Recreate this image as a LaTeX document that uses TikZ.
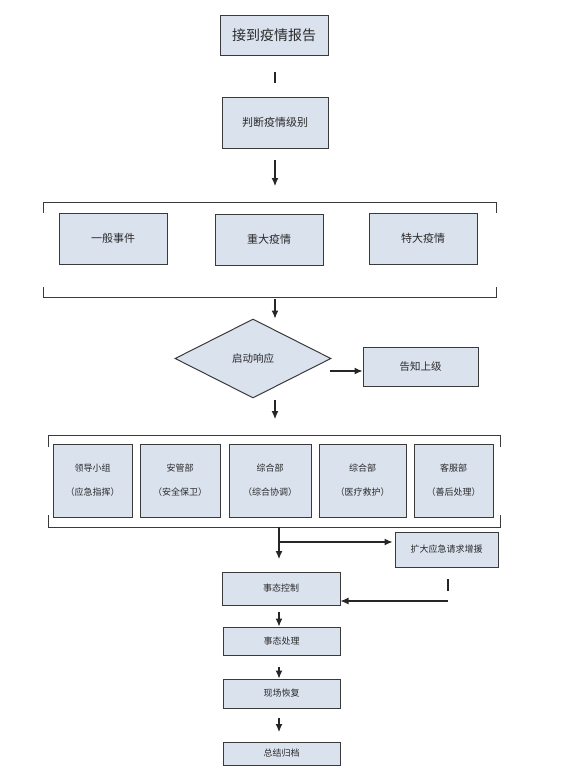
\documentclass[tikz,border=0pt]{standalone}
\usepackage{fontspec}
\newfontfamily\cjk{Noto Sans CJK SC}
\usetikzlibrary{shapes.geometric,arrows.meta}
\definecolor{boxfill}{HTML}{DAE2EE}
\definecolor{boxline}{HTML}{3A3A3A}
\definecolor{txt}{HTML}{2A2A2A}
\begin{document}
\begin{tikzpicture}[x=1pt,y=-1pt,
  box/.style={draw=boxline,line width=1pt,fill=boxfill,inner sep=0pt,anchor=center,text=txt,font=\cjk\fontsize{10}{12}\selectfont},
  arr/.style={draw=black!85,line width=1.1pt,-{Latex[length=8pt,width=7pt]}},
  ln/.style={draw=black!85,line width=1.1pt},
  brk/.style={draw=boxline,line width=1pt}]
\useasboundingbox (0,0) rectangle (584,774);
% top boxes
\node[box,minimum width=108pt,minimum height=40pt,font=\cjk\fontsize{14}{16}\selectfont] (report) at (274,35) {接到疫情报告};
\node[box,minimum width=106pt,minimum height=51pt,font=\cjk\fontsize{11}{13}\selectfont] (judge) at (275,122.5) {判断疫情级别};
% level group
\node[box,minimum width=108pt,minimum height=51pt,font=\cjk\fontsize{11}{13}\selectfont] (l1) at (113,238.5) {一般事件};
\node[box,minimum width=108pt,minimum height=51pt,font=\cjk\fontsize{11}{13}\selectfont] (l2) at (269,239.5) {重大疫情};
\node[box,minimum width=108pt,minimum height=51pt,font=\cjk\fontsize{11}{13}\selectfont] (l3) at (423,238.5) {特大疫情};
\draw[brk] (43,213) -- (43,202) -- (496,202) -- (496,213);
\draw[brk] (43,287) -- (43,297) -- (496,297) -- (496,287);
% response
\node[box,shape=diamond,minimum width=156pt,minimum height=79pt,font=\cjk\fontsize{10.5}{12}\selectfont] (resp) at (253,358.5) {启动响应};
\node[box,minimum width=115pt,minimum height=39pt,font=\cjk\fontsize{10.5}{12}\selectfont] (notify) at (420.5,366.5) {告知上级};
% departments
\tikzset{dept/.style={box,minimum height=73pt,align=center,font=\cjk\fontsize{9}{24}\selectfont}}
\node[dept,minimum width=79pt] (d1) at (92.5,480.5) {领导小组\\（应急指挥）};
\node[dept,minimum width=80pt] (d2) at (180,480.5) {安管部\\（安全保卫）};
\node[dept,minimum width=82pt] (d3) at (270,480.5) {综合部\\（综合协调）};
\node[dept,minimum width=87pt] (d4) at (362.5,480.5) {综合部\\（医疗救护）};
\node[dept,minimum width=79pt] (d5) at (453.5,480.5) {客服部\\（善后处理）};
\draw[brk] (48,447) -- (48,435) -- (500,435) -- (500,447);
\draw[brk] (48,515) -- (48,527) -- (500,527) -- (500,515);
% lower boxes
\node[box,minimum width=103pt,minimum height=35pt,font=\cjk\fontsize{9}{11}\selectfont] (expand) at (446.5,549.5) {扩大应急请求增援};
\node[box,minimum width=118pt,minimum height=33pt,font=\cjk\fontsize{9}{11}\selectfont] (ctrl) at (281,588.5) {事态控制};
\node[box,minimum width=117pt,minimum height=28pt,font=\cjk\fontsize{9}{11}\selectfont] (handle) at (281.5,641) {事态处理};
\node[box,minimum width=117pt,minimum height=29pt,font=\cjk\fontsize{9}{11}\selectfont] (restore) at (281.5,693.5) {现场恢复};
\node[box,minimum width=117pt,minimum height=23pt,font=\cjk\fontsize{9}{11}\selectfont] (sum) at (281.5,753.5) {总结归档};
% connector coordinates
\coordinate (c1a) at (275,72);
\coordinate (c1b) at (275,83);
\coordinate (c2a) at (275,160);
\coordinate (c2b) at (275,186);
\coordinate (c3a) at (275,299);
\coordinate (c4a) at (330,371);
\coordinate (c5a) at (275,400);
\coordinate (c5b) at (275,419);
\coordinate (c6a) at (279,527);
\coordinate (c6m) at (279,542);
\coordinate (c6b) at (279,559);
\coordinate (c7a) at (448,579);
\coordinate (c7b) at (448,591);
\coordinate (c8a) at (448,601);
\coordinate (c9a) at (279,612);
\coordinate (c10a) at (279,667);
\coordinate (c11a) at (279,718);
\coordinate (c11b) at (279,732);
% connectors
\draw[ln] (c1a) -- (c1b);
\draw[arr] (c2a) -- (c2b);
\draw[arr] (c3a) -- (resp.north -| c3a);
\draw[arr] (c4a) -- (notify.west |- c4a);
\draw[arr] (c5a) -- (c5b);
\draw[arr] (c6a) -- (c6b);
\draw[arr] (c6m) -- ([xshift=-2pt]expand.west |- c6m);
\draw[ln] (c7a) -- (c7b);
\draw[arr] (c8a) -- (ctrl.east |- c8a);
\draw[arr] (c9a) -- (handle.north -| c9a);
\draw[arr] (c10a) -- (restore.north -| c10a);
\draw[arr] (c11a) -- (c11b);
\end{tikzpicture}
\end{document}
